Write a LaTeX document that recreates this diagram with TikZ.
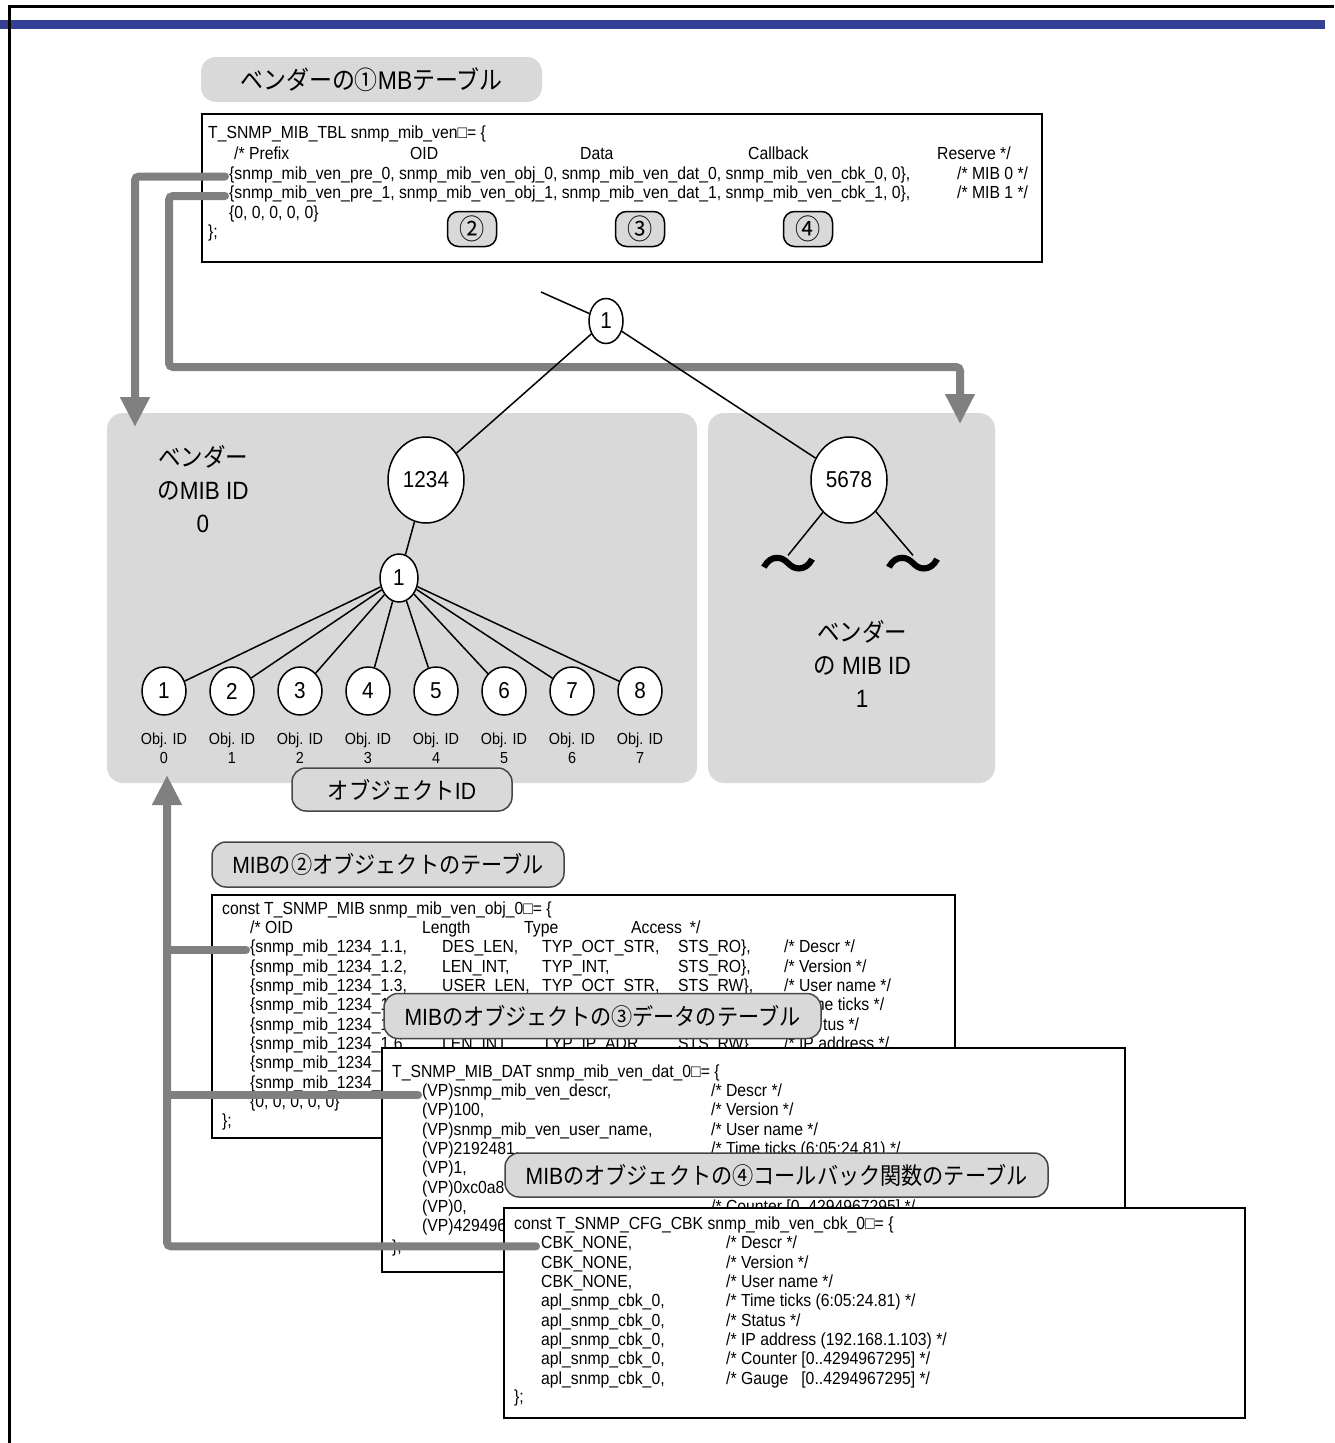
\documentclass[tikz,border=0pt]{standalone}
\usepackage{fontspec}
\setmainfont{Liberation Sans}
\newfontfamily\codef[FakeStretch=0.9]{Liberation Sans}
\newfontfamily\jpf[FakeStretch=0.9]{Noto Sans CJK JP}
\newfontfamily\tildef[FakeBold=3]{Noto Sans CJK JP}
\usetikzlibrary{arrows.meta,shapes.geometric}
\definecolor{panelgray}{RGB}{217,217,217}
\definecolor{arrowgray}{RGB}{128,128,128}
\definecolor{barblue}{RGB}{51,64,148}
\definecolor{edgegray}{RGB}{70,70,70}
\newcommand{\jp}[1]{{\jpf #1}}
\tikzset{
  code/.style={font=\fontsize{17.5}{19}\codef, inner sep=0pt, anchor=mid west},
  tbl/.style={draw=black, line width=2pt, fill=white},
  pill/.style={rounded corners=14pt, fill=panelgray, draw=edgegray, line width=1.5pt, font=\fontsize{23.5}{26}\codef, inner sep=0pt},
  plainpill/.style={rounded corners=15pt, fill=panelgray, draw=none, font=\fontsize{25.5}{27}\codef, inner sep=0pt},
  markbox/.style={rounded corners=11pt, fill=panelgray, draw=black, line width=1.5pt, font=\fontsize{28}{28}\jpf, inner sep=0pt, minimum width=49pt, minimum height=35pt},
  circ/.style={ellipse, draw=black, line width=1.5pt, fill=white, inner sep=0pt, font=\fontsize{23}{24}\codef},
  leaf/.style={circ, minimum width=44pt, minimum height=48pt},
  objl/.style={font=\fontsize{16}{19}\codef, align=center, inner sep=0pt},
  vend/.style={font=\fontsize{25}{33}\codef, align=center, inner sep=0pt},
  tilde/.style={font=\fontsize{56}{56}\tildef, inner sep=0pt},
  treeline/.style={draw=black, line width=1.5pt},
  gline/.style={draw=arrowgray, line width=8pt, line cap=round, rounded corners=4pt},
  gtip/.style={-{Triangle[width=28pt,length=30pt]}},
}
\begin{document}
\begin{tikzpicture}[x=1pt,y=-1pt]
\useasboundingbox (0,0) rectangle (1334,1443);
% frame and bar
\fill[barblue] (0,20) rectangle (1325,29);
\draw[line width=2.5pt] (1334,6.5) -- (9.5,6.5) -- (9.5,1443);

% title 1
\node[plainpill, minimum width=341pt, minimum height=45pt] (title1) at (371.5,79.5) {\jp{ベンダーの①}MB\jp{テーブル}};

% table 1
\draw[tbl] (202,114) rectangle (1042,262);
\node[code] (t1a) at (208,136) {T\_SNMP\_MIB\_TBL snmp\_mib\_ven□= \{};
\node[code] (t1h1) at (234,157) {/* Prefix};
\node[code] (t1h2) at (410,157) {OID};
\node[code] (t1h3) at (580,157) {Data};
\node[code] (t1h4) at (748,157) {Callback};
\node[code] (t1h5) at (937,157) {Reserve */};
\node[code] (t1r1) at (229,176.5) {\{snmp\_mib\_ven\_pre\_0, snmp\_mib\_ven\_obj\_0, snmp\_mib\_ven\_dat\_0, snmp\_mib\_ven\_cbk\_0, 0\},};
\node[code] (t1c1) at (957,176.5) {/* MIB 0 */};
\node[code] (t1r2) at (229,196) {\{snmp\_mib\_ven\_pre\_1, snmp\_mib\_ven\_obj\_1, snmp\_mib\_ven\_dat\_1, snmp\_mib\_ven\_cbk\_1, 0\},};
\node[code] (t1c2) at (957,196) {/* MIB 1 */};
\node[code] (t1r3) at (229,215.5) {\{0, 0, 0, 0, 0\}};
\node[code] (t1e) at (208,235) {\};};
\node[markbox] (m2) at (472,229) {②};
\node[markbox] (m3) at (640,229) {③};
\node[markbox] (m4) at (808,229) {④};

% panels
\fill[panelgray, rounded corners=16pt] (107,413) rectangle (697,783);
\fill[panelgray, rounded corners=16pt] (708,413) rectangle (995,783);

% arrows A and B
\coordinate (a1) at (225,176.5);
\coordinate (arA) at (135,427);
\coordinate (a2) at (225,196);
\coordinate (b1) at (169,367);
\coordinate (arB) at (960,424);
\draw[gline, gtip] (a1) -| (arA);
\draw[gline, gtip] (a2) -| (b1) -| (arB);

% tree
\coordinate (stem) at (541,292);
\node[circ, minimum width=34pt, minimum height=45pt] (top1) at (606,321) {1};
\node[circ, minimum width=76pt, minimum height=86pt] (n1234) at (426,480) {1234};
\node[circ, minimum width=76pt, minimum height=86pt] (n5678) at (849,480) {5678};
\node[circ, minimum width=38pt, minimum height=48pt] (mid1) at (399,578) {1};
\foreach \i [evaluate=\i as \xx using 164+68*(\i-1), evaluate=\i as \oid using int(\i-1)] in {1,...,8} {
  \node[leaf] (leaf\i) at (\xx,691) {\i};
  \node[objl] (obj\i) at (\xx,748) {Obj. ID\\\oid};
}
\node[tilde] (tl) at (788,570) {～};
\node[tilde] (tr) at (913,570) {～};
\draw[treeline] (stem) -- (top1);
\draw[treeline] (top1) -- (n1234);
\draw[treeline] (top1) -- (n5678);
\draw[treeline] (n1234) -- (mid1);
\foreach \i in {1,...,8} { \draw[treeline] (mid1) -- (leaf\i); }
\draw[treeline] (n5678) -- (tl.north);
\draw[treeline] (n5678) -- (tr.north);

\node[vend] (ven0) at (203,489) {\jp{ベンダー}\\\jp{の}MIB ID\\0};
\node[vend] (ven1) at (862,664) {\jp{ベンダー}\\\jp{の} MIB ID\\1};
\node[pill, minimum width=220pt, minimum height=43pt] (objid) at (402,789.5) {\jp{オブジェクト}ID};

% title 2 and object table
\node[pill, minimum width=352pt, minimum height=45pt] (title2) at (388,864.5) {MIB\jp{の②オブジェクトのテーブル}};
\draw[tbl] (212,895) rectangle (955,1138);
\node[code] (oa) at (222,912) {const T\_SNMP\_MIB snmp\_mib\_ven\_obj\_0□= \{};
\node[code] (oh1) at (250,931) {/* OID};
\node[code] (oh2) at (422,931) {Length};
\node[code] (oh3) at (524,931) {Type};
\node[code] (oh4) at (631,931) {Access\hspace{8pt}*/};
\node[code] (o1a) at (250,950) {\{snmp\_mib\_1234\_1.1,};
\node[code] (o1b) at (442,950) {DES\_LEN,};
\node[code] (o1c) at (542,950) {TYP\_OCT\_STR,};
\node[code] (o1d) at (678,950) {STS\_RO\},};
\node[code] (o1e) at (784,950) {/* Descr */};
\node[code] (o2a) at (250,969.4) {\{snmp\_mib\_1234\_1.2,};
\node[code] (o2b) at (442,969.4) {LEN\_INT,};
\node[code] (o2c) at (542,969.4) {TYP\_INT,};
\node[code] (o2d) at (678,969.4) {STS\_RO\},};
\node[code] (o2e) at (784,969.4) {/* Version */};
\node[code] (o3a) at (250,988.7) {\{snmp\_mib\_1234\_1.3,};
\node[code] (o3b) at (442,988.7) {USER\_LEN,};
\node[code] (o3c) at (542,988.7) {TYP\_OCT\_STR,};
\node[code] (o3d) at (678,988.7) {STS\_RW\},};
\node[code] (o3e) at (784,988.7) {/* User name */};
\node[code] (o4a) at (250,1008) {\{snmp\_mib\_1234\_1.4,};
\node[code] (o4e) at (784,1008) {/* Time ticks */};
\node[code] (o5a) at (250,1027.4) {\{snmp\_mib\_1234\_1.5,};
\node[code] (o5e) at (823,1027.4) {tus */};
\node[code] (o6a) at (250,1046.8) {\{snmp\_mib\_1234\_1.6,};
\node[code] (o6b) at (442,1046.8) {LEN\_INT,};
\node[code] (o6c) at (542,1046.8) {TYP\_IP\_ADR,};
\node[code] (o6d) at (678,1046.8) {STS\_RW\},};
\node[code] (o6e) at (784,1046.8) {/* IP address */};
\node[code] (o7a) at (250,1066.1) {\{snmp\_mib\_1234\_1.7,};
\node[code] (o8a) at (250,1085.5) {\{snmp\_mib\_1234\_1.8,};
\node[code] (o9a) at (250,1104.8) {\{0, 0, 0, 0, 0\}};
\node[code] (oe) at (222,1124) {\};};

% title 3
\node[pill, minimum width=437pt, minimum height=45pt] (title3) at (602.5,1016) {MIB\jp{のオブジェクトの③データのテーブル}};

% data table
\draw[tbl] (382,1048) rectangle (1125,1272);
\node[code] (da) at (392,1075) {T\_SNMP\_MIB\_DAT snmp\_mib\_ven\_dat\_0□= \{};
\node[code] (d1a) at (422,1094) {(VP)snmp\_mib\_ven\_descr,};
\node[code] (d1b) at (711,1094) {/* Descr */};
\node[code] (d2a) at (422,1113.3) {(VP)100,};
\node[code] (d2b) at (711,1113.3) {/* Version */};
\node[code] (d3a) at (422,1132.6) {(VP)snmp\_mib\_ven\_user\_name,};
\node[code] (d3b) at (711,1132.6) {/* User name */};
\node[code] (d4a) at (422,1151.9) {(VP)2192481,};
\node[code] (d4b) at (711,1151.9) {/* Time ticks (6:05:24.81) */};
\node[code] (d5a) at (422,1171.2) {(VP)1,};
\node[code] (d6a) at (422,1190.5) {(VP)0xc0a8};
\node[code] (d7a) at (422,1209.8) {(VP)0,};
\node[code] (d7b) at (711,1209.8) {/* Counter [0..4294967295] */};
\node[code] (d8a) at (422,1229.1) {(VP)429496};
\node[code] (de) at (392,1250) {\};};

% title 4
\node[pill, minimum width=543pt, minimum height=44pt] (title4) at (776.5,1175) {MIB\jp{のオブジェクトの④コールバック関数のテーブル}};

% callback table
\draw[tbl] (504,1208) rectangle (1245,1418);
\node[code] (ca) at (514,1227) {const T\_SNMP\_CFG\_CBK snmp\_mib\_ven\_cbk\_0□= \{};
\node[code] (c1a) at (541,1246.3) {CBK\_NONE,};
\node[code] (c1b) at (726,1246.3) {/* Descr */};
\node[code] (c2a) at (541,1265.6) {CBK\_NONE,};
\node[code] (c2b) at (726,1265.6) {/* Version */};
\node[code] (c3a) at (541,1284.9) {CBK\_NONE,};
\node[code] (c3b) at (726,1284.9) {/* User name */};
\node[code] (c4a) at (541,1304.2) {apl\_snmp\_cbk\_0,};
\node[code] (c4b) at (726,1304.2) {/* Time ticks (6:05:24.81) */};
\node[code] (c5a) at (541,1323.5) {apl\_snmp\_cbk\_0,};
\node[code] (c5b) at (726,1323.5) {/* Status */};
\node[code] (c6a) at (541,1342.8) {apl\_snmp\_cbk\_0,};
\node[code] (c6b) at (726,1342.8) {/* IP address (192.168.1.103) */};
\node[code] (c7a) at (541,1362.1) {apl\_snmp\_cbk\_0,};
\node[code] (c7b) at (726,1362.1) {/* Counter [0..4294967295] */};
\node[code] (c8a) at (541,1381.4) {apl\_snmp\_cbk\_0,};
\node[code] (c8b) at (726,1381.4) {/* Gauge\hspace{13pt}[0..4294967295] */};
\node[code] (ce) at (514,1400) {\};};

% arrow C (up to the object ID panel)
\coordinate (cTip) at (167,775);
\coordinate (cObj) at (246,950);
\coordinate (cDat) at (418,1095);
\coordinate (cCbk) at (536,1246.3);
\draw[gline] (cObj) -- (cObj -| cTip);
\draw[gline] (cDat) -- (cDat -| cTip);
\draw[gline, gtip] (cCbk) -| (cTip);
\end{tikzpicture}
\end{document}
